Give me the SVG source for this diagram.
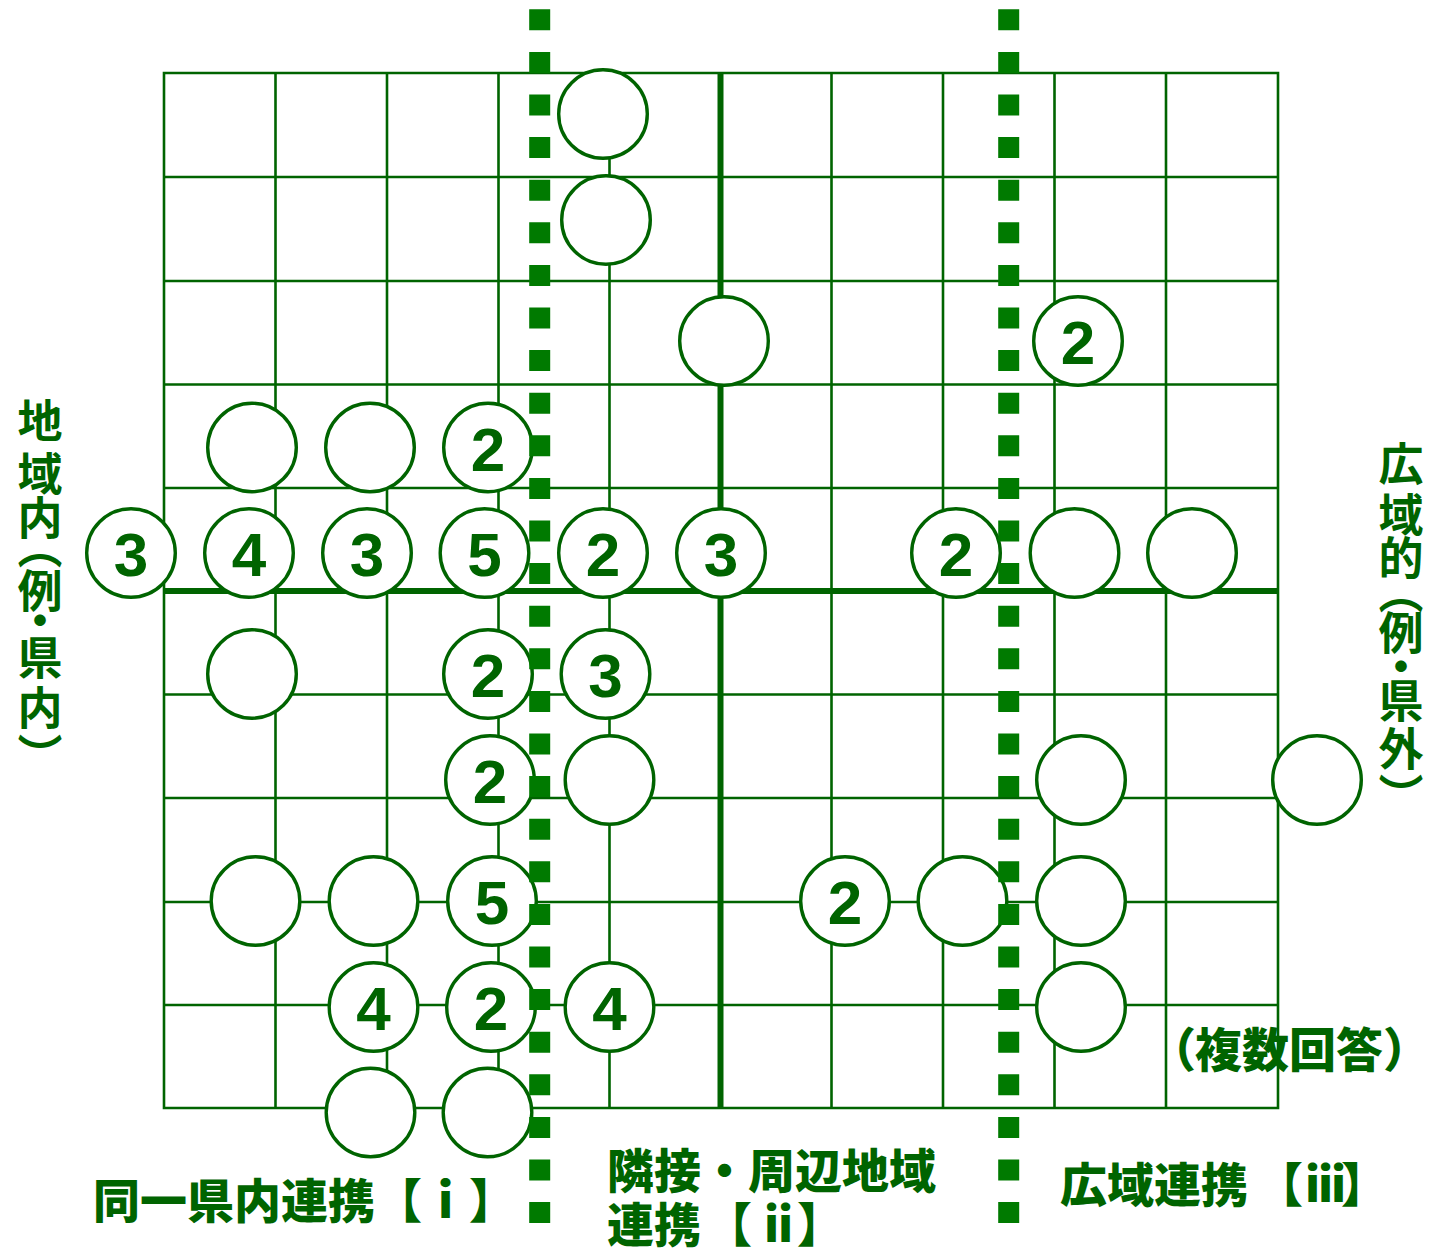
<svg xmlns="http://www.w3.org/2000/svg" width="1431" height="1254" viewBox="0 0 1431 1254">
<style>
.g{stroke:#006400;stroke-width:2.6;fill:none}
.gt{stroke:#006400;stroke-width:6;fill:none}
.dash{stroke:#007a00;stroke-width:21;stroke-dasharray:21 21.6;fill:none}
.c{fill:#fff;stroke:#006400;stroke-width:3.4}
.n{font-family:"Liberation Sans",Arial,sans-serif;font-weight:bold;font-size:62px;fill:#006400;text-anchor:middle}
.lb{font-family:"Noto Sans CJK JP","Noto Sans CJK SC",sans-serif;font-weight:900;fill:#006400}
.vl{font-family:"Noto Sans CJK JP","Noto Sans CJK SC",sans-serif;fill:#006400;font-size:45px;writing-mode:vertical-rl;font-weight:bold}
</style>
<rect width="1431" height="1254" fill="#fff"/>
<g id="grid">
<path class="g" d="M164 73H1278V1108H164Z"/>
<path class="g" d="M275.5 73V1108M387 73V1108M498.5 73V1108M609.5 73V1108M831.5 73V1108M943 73V1108M1054.5 73V1108M1166 73V1108"/>
<path class="g" d="M164 177H1278M164 281H1278M164 384.5H1278M164 488H1278M164 694.5H1278M164 798H1278M164 902H1278M164 1005H1278"/>
<path class="gt" d="M720.5 73V1108M164 591H1278"/>
</g>
<g id="nodes">
<g id="n1"><circle class="c" cx="603" cy="114" r="44.3"/></g>
<g id="n2"><circle class="c" cx="606" cy="220" r="44.3"/></g>
<g id="n3"><circle class="c" cx="724" cy="341" r="44.3"/></g>
<g id="n4"><circle class="c" cx="1078" cy="341" r="44.3"/><text class="n" x="1078" y="364">2</text></g>
<g id="n5"><circle class="c" cx="252" cy="447.5" r="44.3"/></g>
<g id="n6"><circle class="c" cx="370" cy="447.5" r="44.3"/></g>
<g id="n7"><circle class="c" cx="488" cy="447.5" r="44.3"/><text class="n" x="488" y="470.5">2</text></g>
<g id="n8"><circle class="c" cx="131" cy="553" r="44.3"/><text class="n" x="131" y="576">3</text></g>
<g id="n9"><circle class="c" cx="249" cy="553" r="44.3"/><text class="n" x="249" y="576">4</text></g>
<g id="n10"><circle class="c" cx="367" cy="553" r="44.3"/><text class="n" x="367" y="576">3</text></g>
<g id="n11"><circle class="c" cx="484.5" cy="553" r="44.3"/><text class="n" x="484.5" y="576">5</text></g>
<g id="n12"><circle class="c" cx="603" cy="553" r="44.3"/><text class="n" x="603" y="576">2</text></g>
<g id="n13"><circle class="c" cx="721" cy="553" r="44.3"/><text class="n" x="721" y="576">3</text></g>
<g id="n14"><circle class="c" cx="956" cy="553" r="44.3"/><text class="n" x="956" y="576">2</text></g>
<g id="n15"><circle class="c" cx="1074.5" cy="553" r="44.3"/></g>
<g id="n16"><circle class="c" cx="1192" cy="553" r="44.3"/></g>
<g id="n17"><circle class="c" cx="252" cy="674" r="44.3"/></g>
<g id="n18"><circle class="c" cx="488" cy="674" r="44.3"/><text class="n" x="488" y="697">2</text></g>
<g id="n19"><circle class="c" cx="605.5" cy="674" r="44.3"/><text class="n" x="605.5" y="697">3</text></g>
<g id="n20"><circle class="c" cx="490" cy="780" r="44.3"/><text class="n" x="490" y="803">2</text></g>
<g id="n21"><circle class="c" cx="609.5" cy="780" r="44.3"/></g>
<g id="n22"><circle class="c" cx="1081" cy="780" r="44.3"/></g>
<g id="n23"><circle class="c" cx="1317" cy="780" r="44.3"/></g>
<g id="n24"><circle class="c" cx="255.5" cy="901" r="44.3"/></g>
<g id="n25"><circle class="c" cx="373.5" cy="901" r="44.3"/></g>
<g id="n26"><circle class="c" cx="492" cy="901" r="44.3"/><text class="n" x="492" y="924">5</text></g>
<g id="n27"><circle class="c" cx="845" cy="901" r="44.3"/><text class="n" x="845" y="924">2</text></g>
<g id="n28"><circle class="c" cx="962.5" cy="901" r="44.3"/></g>
<g id="n29"><circle class="c" cx="1081" cy="901" r="44.3"/></g>
<g id="n30"><circle class="c" cx="373.5" cy="1007" r="44.3"/><text class="n" x="373.5" y="1030">4</text></g>
<g id="n31"><circle class="c" cx="491" cy="1007" r="44.3"/><text class="n" x="491" y="1030">2</text></g>
<g id="n32"><circle class="c" cx="609.5" cy="1007" r="44.3"/><text class="n" x="609.5" y="1030">4</text></g>
<g id="n33"><circle class="c" cx="1081" cy="1007" r="44.3"/></g>
<g id="n34"><circle class="c" cx="370.5" cy="1112.5" r="44.3"/></g>
<g id="n35"><circle class="c" cx="487.5" cy="1112.5" r="44.3"/></g>
</g>
<g id="dividers">
<path class="dash" d="M539.7 9.3V1224M1008.7 9.3V1224"/>
</g>
<g id="labels">
<text class="vl" x="40" y="398 451 495 524 568 598 635 685 733">地域内（例・県内）</text>
<text class="vl" x="1401" y="441 492 535 569 610 644 678 726 773">広域的（例・県外）</text>
<text class="lb" font-size="47" x="93" y="1218">同一県内連携【ｉ】</text>
<text class="lb" font-size="47" x="607" y="1188">隣接・周辺地域</text>
<text class="lb" font-size="47" x="607 654 705 764 778 797" y="1242">連携【ii】</text>
<text class="lb" font-size="47" x="1060 1107 1154 1201 1256 1305 1318 1331 1341" y="1202">広域連携【iii】</text>
<text class="lb" font-size="47" x="1149 1195 1242 1289 1336 1383" y="1067">（複数回答）</text>
</g>
</svg>
